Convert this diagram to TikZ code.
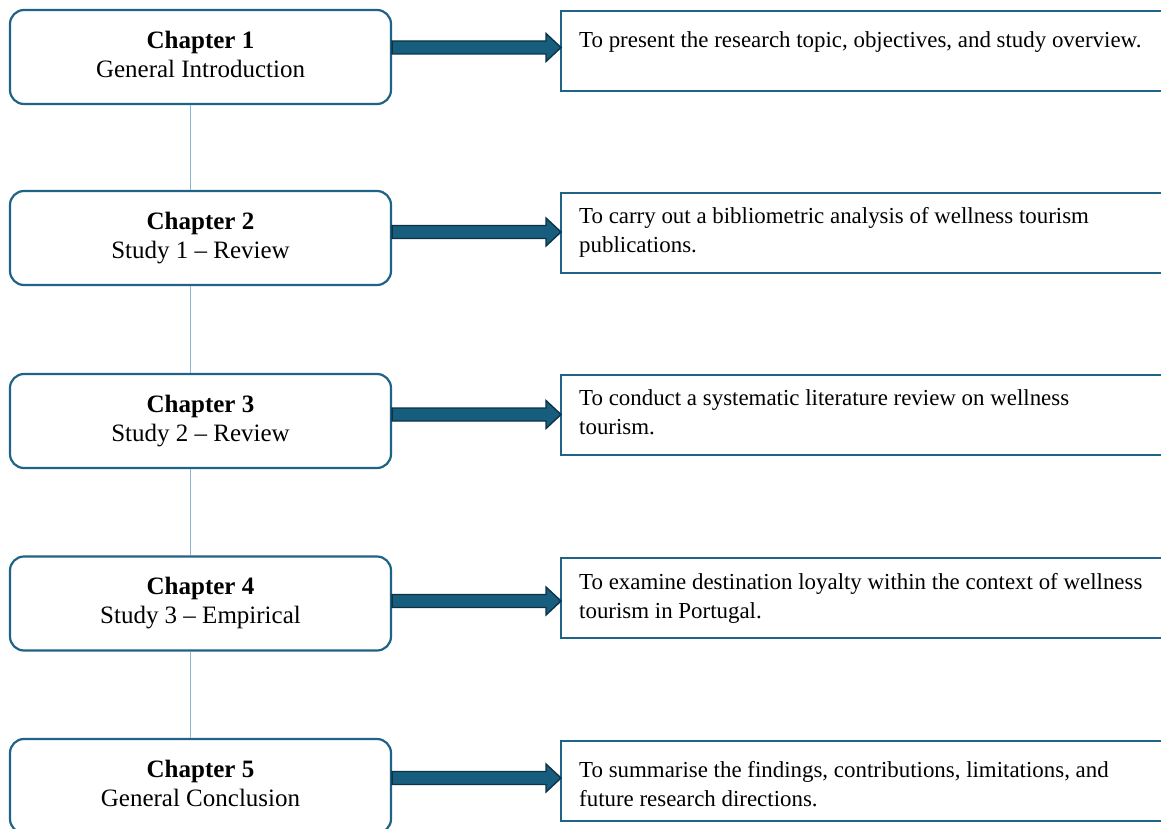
\documentclass[tikz,border=0pt]{standalone}
\usepackage{fontspec}
\setmainfont{Liberation Serif}
\usetikzlibrary{calc}
\definecolor{boxblue}{HTML}{1F6386}
\definecolor{arrowfill}{HTML}{175E7E}
\definecolor{arrowline}{HTML}{0D3246}
\definecolor{linkblue}{HTML}{8DB6CE}
\tikzset{
  chapbox/.style={draw=boxblue, line width=2.2pt, rounded corners=14pt, fill=white,
    minimum width=381pt, minimum height=94pt, inner sep=0pt, align=center,
    font=\fontsize{25}{29}\selectfont},
  aimbox/.style={draw=boxblue, line width=2.2pt, fill=white, anchor=north west,
    minimum width=620pt, minimum height=80pt, inner sep=0pt},
  aimtext/.style={anchor=base west, inner sep=0pt,
    font=\fontsize{22.9}{29}\selectfont},
  link/.style={draw=linkblue, line width=1.6pt},
  blockarrow/.style={fill=arrowfill, draw=arrowline, line width=1.4pt, line join=miter}
}
\newcommand\blockarr[3]{%
  \path ($(#1.east)+(0,#3)$) coordinate (s);
  \path ($(s -| #2.west)+(1,0)$) coordinate (t);
  \draw[blockarrow] ($(s)+(0,-6.5)$) -- ($(t)+(-15,-6.5)$) -- ($(t)+(-15,-14)$) -- (t)
    -- ($(t)+(-15,14)$) -- ($(t)+(-15,6.5)$) -- ($(s)+(0,6.5)$) -- cycle;}
\newcommand\aimlines[1]{\parbox[t]{600pt}{\raggedright #1}}
\begin{document}
\begin{tikzpicture}[x=1pt,y=-1pt]
\useasboundingbox (0,0) rectangle (1161,829);
\node[chapbox] (c1) at (200.5,57) {\raisebox{3pt}{\begin{tabular}{@{}c@{}}\textbf{Chapter 1}\\General Introduction\end{tabular}}};
\node[chapbox] (c2) at (200.5,238) {\textbf{Chapter 2}\\Study 1 -- Review};
\node[chapbox] (c3) at (200.5,421) {\textbf{Chapter 3}\\Study 2 -- Review};
\node[chapbox] (c4) at (200.5,603.5) {\textbf{Chapter 4}\\Study 3 -- Empirical};
\node[chapbox] (c5) at (200.5,786) {\raisebox{3pt}{\begin{tabular}{@{}c@{}}\textbf{Chapter 5}\\General Conclusion\end{tabular}}};
\draw[link] ([xshift=-10pt]c1.south) -- ([xshift=-10pt]c2.north);
\draw[link] ([xshift=-10pt]c2.south) -- ([xshift=-10pt]c3.north);
\draw[link] ([xshift=-10pt]c3.south) -- ([xshift=-10pt]c4.north);
\draw[link] ([xshift=-10pt]c4.south) -- ([xshift=-10pt]c5.north);
\node[aimbox] (a1) at (560,10) {};
\node[aimbox] (a2) at (560,192) {};
\node[aimbox] (a3) at (560,374) {};
\node[aimbox] (a4) at (560,556.5) {};
\node[aimbox] (a5) at (560,739.5) {};
\node[aimtext] (t1) at (579,48) {\aimlines{To present the research topic, objectives, and study overview.}};
\node[aimtext] (t2) at (579,223) {\aimlines{To carry out a bibliometric analysis of wellness tourism\\publications.}};
\node[aimtext] (t3) at (579,405) {\aimlines{To conduct a systematic literature review on wellness\\tourism.}};
\node[aimtext] (t4) at (579,589) {\aimlines{To examine destination loyalty within the context of wellness\\tourism in Portugal.}};
\node[aimtext] (t5) at (579,777) {\aimlines{To summarise the findings, contributions, limitations, and\\future research directions.}};
\blockarr{c1}{a1}{-9.5}
\blockarr{c2}{a2}{-6}
\blockarr{c3}{a3}{-6.5}
\blockarr{c4}{a4}{-2.5}
\blockarr{c5}{a5}{-8}
\end{tikzpicture}
\end{document}
